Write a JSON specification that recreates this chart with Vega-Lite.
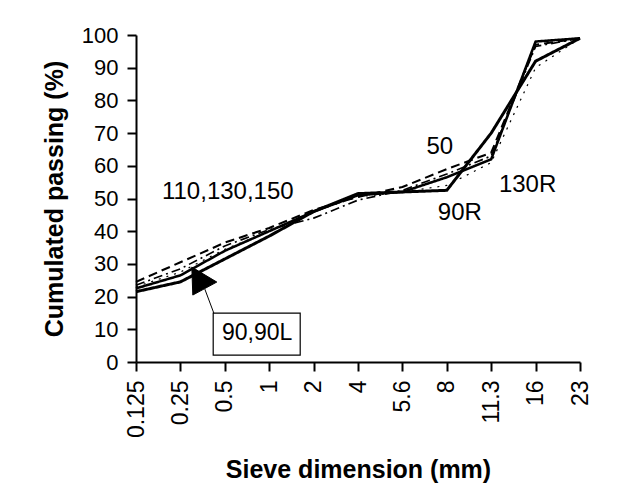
{
  "$schema": "https://vega.github.io/schema/vega-lite/v6.json",
  "width": 444,
  "height": 327,
  "autosize": {"type": "none"},
  "padding": {"left": 136, "top": 35, "right": 62, "bottom": 138},
  "background": "white",
  "config": {
    "view": {"stroke": null},
    "font": "Liberation Sans",
    "axis": {"ticks": true, "tickColor": "black", "tickOpacity": 1, "tickWidth": 2, "tickSize": 9}
  },
  "datasets": {
    "curves": [
      {"series": "90, 90L", "sieve": "0.125", "pct": 21.5},
      {"series": "90, 90L", "sieve": "0.25", "pct": 24.5},
      {"series": "90, 90L", "sieve": "0.5", "pct": 31.5},
      {"series": "90, 90L", "sieve": "1", "pct": 38.5},
      {"series": "90, 90L", "sieve": "2", "pct": 46},
      {"series": "90, 90L", "sieve": "4", "pct": 51.5},
      {"series": "90, 90L", "sieve": "5.6", "pct": 52},
      {"series": "90, 90L", "sieve": "8", "pct": 52.5},
      {"series": "90, 90L", "sieve": "11.3", "pct": 70},
      {"series": "90, 90L", "sieve": "16", "pct": 92},
      {"series": "90, 90L", "sieve": "23", "pct": 99},
      {"series": "90R", "sieve": "0.125", "pct": 22.5},
      {"series": "90R", "sieve": "0.25", "pct": 26.5},
      {"series": "90R", "sieve": "0.5", "pct": 34},
      {"series": "90R", "sieve": "1", "pct": 40},
      {"series": "90R", "sieve": "2", "pct": 46},
      {"series": "90R", "sieve": "4", "pct": 51},
      {"series": "90R", "sieve": "5.6", "pct": 52},
      {"series": "90R", "sieve": "8", "pct": 56.5},
      {"series": "90R", "sieve": "11.3", "pct": 62},
      {"series": "90R", "sieve": "16", "pct": 98},
      {"series": "90R", "sieve": "23", "pct": 99},
      {"series": "50", "sieve": "0.125", "pct": 24.5},
      {"series": "50", "sieve": "0.25", "pct": 30.5},
      {"series": "50", "sieve": "0.5", "pct": 36.5},
      {"series": "50", "sieve": "1", "pct": 41},
      {"series": "50", "sieve": "2", "pct": 46.5},
      {"series": "50", "sieve": "4", "pct": 50.5},
      {"series": "50", "sieve": "5.6", "pct": 53.5},
      {"series": "50", "sieve": "8", "pct": 59},
      {"series": "50", "sieve": "11.3", "pct": 64},
      {"series": "50", "sieve": "16", "pct": 97},
      {"series": "50", "sieve": "23", "pct": 99},
      {"series": "110, 130, 150", "sieve": "0.125", "pct": 23.5},
      {"series": "110, 130, 150", "sieve": "0.25", "pct": 28.5},
      {"series": "110, 130, 150", "sieve": "0.5", "pct": 35.5},
      {"series": "110, 130, 150", "sieve": "1", "pct": 40.5},
      {"series": "110, 130, 150", "sieve": "2", "pct": 44},
      {"series": "110, 130, 150", "sieve": "4", "pct": 49.5},
      {"series": "110, 130, 150", "sieve": "5.6", "pct": 52.5},
      {"series": "110, 130, 150", "sieve": "8", "pct": 57.5},
      {"series": "110, 130, 150", "sieve": "11.3", "pct": 63},
      {"series": "110, 130, 150", "sieve": "16", "pct": 96.5},
      {"series": "110, 130, 150", "sieve": "23", "pct": 99},
      {"series": "130R", "sieve": "0.125", "pct": 23},
      {"series": "130R", "sieve": "0.25", "pct": 27.5},
      {"series": "130R", "sieve": "0.5", "pct": 34.5},
      {"series": "130R", "sieve": "1", "pct": 40},
      {"series": "130R", "sieve": "2", "pct": 46},
      {"series": "130R", "sieve": "4", "pct": 50.5},
      {"series": "130R", "sieve": "5.6", "pct": 52},
      {"series": "130R", "sieve": "8", "pct": 54},
      {"series": "130R", "sieve": "11.3", "pct": 61},
      {"series": "130R", "sieve": "16", "pct": 90},
      {"series": "130R", "sieve": "23", "pct": 99}
    ]
  },
  "encoding": {
    "x": {
      "field": "sieve",
      "type": "ordinal",
      "scale": {"type": "point", "padding": 0, "domain": ["0.125", "0.25", "0.5", "1", "2", "4", "5.6", "8", "11.3", "16", "23"]},
      "axis": {
        "title": "Sieve dimension (mm)",
        "titleFont": "Liberation Sans",
        "titleFontSize": 25,
        "titleFontWeight": "bold",
        "titleColor": "black",
        "titlePadding": 20,
        "labelAngle": 270,
        "labelFont": "Liberation Sans",
        "labelFontSize": 23,
        "labelColor": "black",
        "labelPadding": 9,
        "labelOverlap": false,
        "domainColor": "black",
        "domainWidth": 2,
        "ticks": true,
        "tickColor": "black",
        "tickOpacity": 1,
        "tickWidth": 2,
        "tickSize": 9,
        "grid": false
      }
    },
    "y": {
      "field": "pct",
      "type": "quantitative",
      "scale": {"domain": [0, 100], "nice": false, "zero": true},
      "axis": {
        "title": "Cumulated passing (%)",
        "titleFont": "Liberation Sans",
        "titleFontSize": 25,
        "titleFontWeight": "bold",
        "titleColor": "black",
        "titlePadding": 14,
        "values": [0, 10, 20, 30, 40, 50, 60, 70, 80, 90, 100],
        "tickCount": 11,
        "labelFont": "Liberation Sans",
        "labelFontSize": 22,
        "labelColor": "black",
        "labelPadding": 9,
        "labelOverlap": false,
        "domainColor": "black",
        "domainWidth": 2,
        "ticks": true,
        "tickColor": "black",
        "tickOpacity": 1,
        "tickWidth": 2,
        "tickSize": 9,
        "grid": false
      }
    }
  },
  "layer": [
    {
      "data": {"name": "curves"},
      "mark": {"type": "line", "color": "black", "strokeJoin": "round"},
      "encoding": {
        "detail": {"field": "series"},
        "strokeDash": {
          "field": "series",
          "type": "nominal",
          "scale": {
            "domain": ["90, 90L", "90R", "50", "110, 130, 150", "130R"],
            "range": [[1, 0], [1, 0], [9, 5], [9, 4, 2, 4], [2, 6]]
          },
          "legend": null
        },
        "strokeWidth": {
          "field": "series",
          "type": "nominal",
          "scale": {
            "domain": ["90, 90L", "90R", "50", "110, 130, 150", "130R"],
            "range": [3, 1.2, 2, 2, 2.5]
          },
          "legend": null
        }
      }
    },
    {
      "data": {"values": [{"sieve": "1", "pct": 8.5}]},
      "mark": {"type": "point", "shape": "M-56,-21H31V21H-56Z", "size": 4, "filled": false, "stroke": "black", "strokeWidth": 1.2, "opacity": 1}
    },
    {
      "data": {"values": [{"sieve": "0.5", "pct": 22}]},
      "mark": {"type": "point", "shape": "M-33,-23L-32,5L-8,-8Z M-20,-1L-11,23", "size": 4, "filled": true, "color": "black", "stroke": "black", "strokeWidth": 1, "opacity": 1}
    },
    {
      "data": {"values": [{"label": "90,90L", "sieve": "1", "pct": 8.8}]},
      "mark": {"type": "text", "fontSize": 23, "align": "center", "baseline": "middle", "dx": -12, "color": "black"},
      "encoding": {"text": {"field": "label"}}
    },
    {
      "data": {"values": [{"label": "110,130,150", "sieve": "0.5", "pct": 52}]},
      "mark": {"type": "text", "fontSize": 24, "align": "center", "baseline": "middle", "dx": 3, "color": "black"},
      "encoding": {"text": {"field": "label"}}
    },
    {
      "data": {"values": [{"label": "50", "sieve": "8", "pct": 65.7}]},
      "mark": {"type": "text", "fontSize": 24, "align": "center", "baseline": "middle", "dx": -7, "color": "black"},
      "encoding": {"text": {"field": "label"}}
    },
    {
      "data": {"values": [{"label": "90R", "sieve": "8", "pct": 45.5}]},
      "mark": {"type": "text", "fontSize": 24, "align": "center", "baseline": "middle", "dx": 13, "color": "black"},
      "encoding": {"text": {"field": "label"}}
    },
    {
      "data": {"values": [{"label": "130R", "sieve": "16", "pct": 54}]},
      "mark": {"type": "text", "fontSize": 24, "align": "center", "baseline": "middle", "dx": -8, "color": "black"},
      "encoding": {"text": {"field": "label"}}
    }
  ]
}
